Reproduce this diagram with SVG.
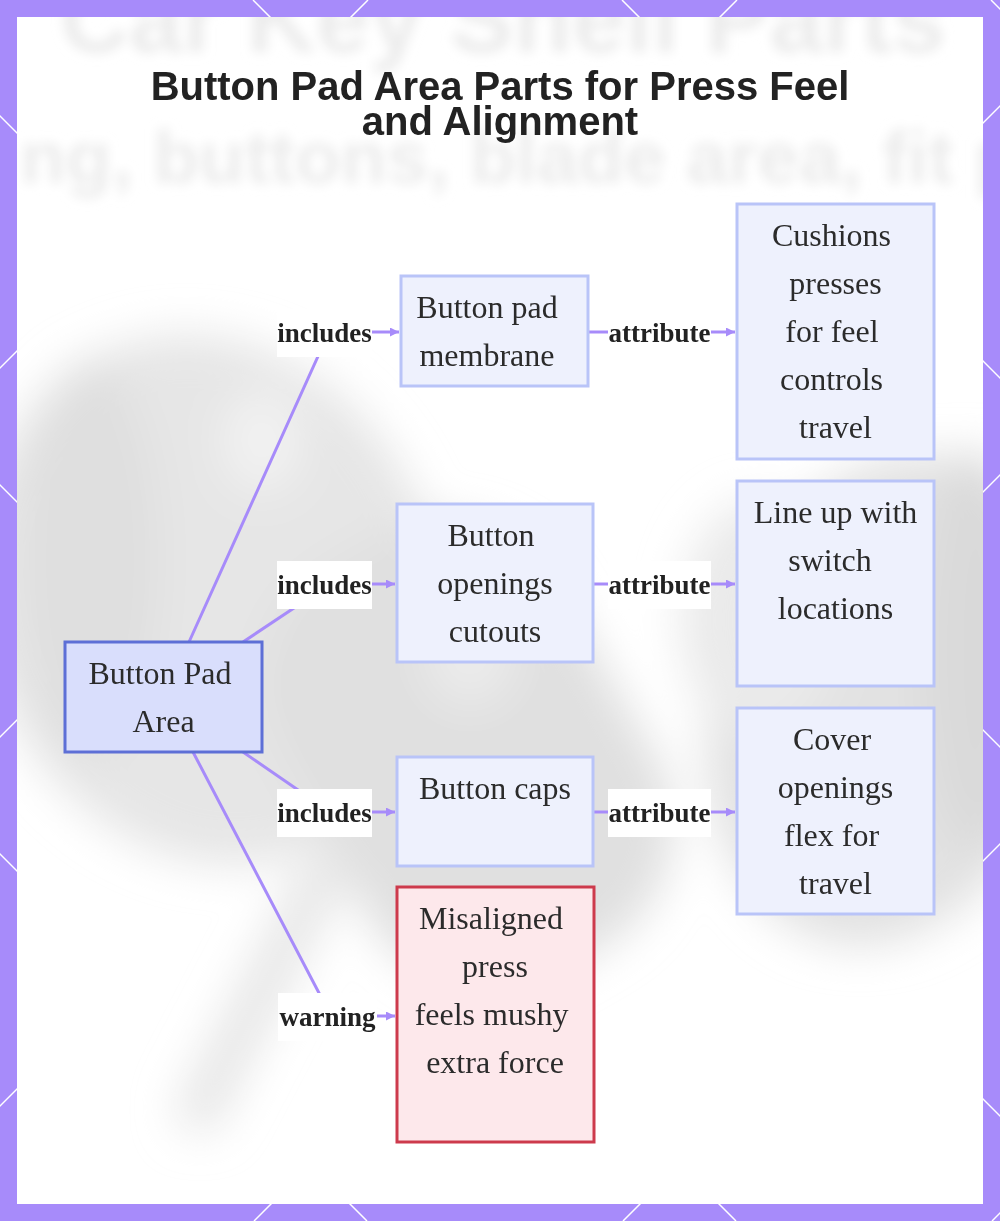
<svg xmlns="http://www.w3.org/2000/svg" width="1000" height="1221" viewBox="0 0 1000 1221">
<style>
.node rect{stroke-width:3}
.n-main rect{fill:#d9defc;stroke:#5d6fd6}
.n-part rect{fill:#eef1fd;stroke:#b9c4f8}
.n-warn rect{fill:#fde8eb;stroke:#cd3a4c}
.node text{font-family:"Liberation Serif","Times New Roman",serif;font-size:32px;fill:#2b2b2b;text-anchor:middle}
.edge{fill:none;stroke:#a78bfa;stroke-width:3}
.lbl rect{fill:#ffffff}
.lbl text{font-family:"Liberation Serif","Times New Roman",serif;font-weight:bold;font-size:27px;fill:#222;text-anchor:middle}
.title{font-family:"Liberation Sans",Arial,sans-serif;font-weight:bold;font-size:40px;fill:#222;text-anchor:middle}
.bgtxt{font-family:"Liberation Sans",Arial,sans-serif;font-weight:bold;fill:#ececec}
.lat{stroke:#ffffff;stroke-width:1.5}
</style>
<defs>
<marker id="arr" viewBox="0 0 10 10" refX="10" refY="5" markerWidth="3" markerHeight="3" orient="auto">
<path d="M0,0 L10,5 L0,10 z" fill="#a78bfa"/>
</marker>
<filter id="blurBig" x="-50%" y="-50%" width="200%" height="200%"><feGaussianBlur stdDeviation="22"/></filter>
<filter id="blurTxt" x="-10%" y="-40%" width="120%" height="180%"><feGaussianBlur stdDeviation="6"/></filter>
<clipPath id="inner"><rect x="17" y="17" width="966" height="1187"/></clipPath>
<clipPath id="frame"><path d="M0,0H1000V1221H0Z M17,17V1204H983V17Z" clip-rule="evenodd"/></clipPath>
</defs>

<!-- background -->
<rect x="0" y="0" width="1000" height="1221" fill="#ffffff"/>
<g clip-path="url(#inner)">
  <g filter="url(#blurBig)">
    <ellipse cx="210" cy="600" rx="230" ry="270" fill="#e6e6e6" transform="rotate(-20 210 600)"/>
    <ellipse cx="90" cy="560" rx="70" ry="200" fill="#dfdfdf"/>
    <ellipse cx="262" cy="440" rx="38" ry="50" fill="#f2f2f2"/>
    <rect x="300" y="520" width="330" height="470" rx="140" fill="#e0e0e0" transform="rotate(-30 465 755)"/>
    <ellipse cx="470" cy="650" rx="45" ry="55" fill="#ebebeb"/>
    <ellipse cx="890" cy="700" rx="180" ry="250" fill="#e2e2e2" transform="rotate(15 890 700)"/>
    <ellipse cx="975" cy="650" rx="50" ry="200" fill="#d9d9d9"/>
    <ellipse cx="760" cy="620" rx="80" ry="120" fill="#eaeaea"/>
    <line x1="320" y1="880" x2="200" y2="1110" stroke="#e6e6e6" stroke-width="45" stroke-linecap="round"/>
  </g>
  <g filter="url(#blurTxt)">
    <text class="bgtxt" x="60" y="52" font-size="96">Car Key Shell Parts</text>
    <text class="bgtxt" x="20" y="183" font-size="75">ng, buttons, blade area, fit p</text>
  </g>
</g>

<!-- title -->
<text class="title" x="500" y="100">Button Pad Area Parts for Press Feel</text>
<text class="title" x="500" y="135">and Alignment</text>

<!-- connectors -->
<g id="edges">
  <path class="edge" d="M189,642 L329,332 L399,332" marker-end="url(#arr)"/>
  <path class="edge" d="M243,642 L330,584 L395,584" marker-end="url(#arr)"/>
  <path class="edge" d="M243,752 L330,812 L395,812" marker-end="url(#arr)"/>
  <path class="edge" d="M193,752 L331,1016 L395,1016" marker-end="url(#arr)"/>
  <path class="edge" d="M588,332 L735,332" marker-end="url(#arr)"/>
  <path class="edge" d="M593,584 L735,584" marker-end="url(#arr)"/>
  <path class="edge" d="M593,812 L735,812" marker-end="url(#arr)"/>
  <g class="lbl">
    <rect x="277" y="309" width="95" height="48"/><text x="324.5" y="342">includes</text>
    <rect x="608" y="309" width="103" height="48"/><text x="659.5" y="342">attribute</text>
    <rect x="277" y="561" width="95" height="48"/><text x="324.5" y="594">includes</text>
    <rect x="608" y="561" width="103" height="48"/><text x="659.5" y="594">attribute</text>
    <rect x="277" y="789" width="95" height="48"/><text x="324.5" y="822">includes</text>
    <rect x="608" y="789" width="103" height="48"/><text x="659.5" y="822">attribute</text>
    <rect x="278" y="993" width="99" height="48"/><text x="327.5" y="1026">warning</text>
  </g>
</g>

<!-- nodes -->
<g id="n-area" class="node n-main">
  <rect x="65" y="642" width="197" height="110"/>
  <text x="160" y="684">Button Pad</text>
  <text x="163.5" y="732">Area</text>
</g>
<g id="n-membrane" class="node n-part">
  <rect x="401" y="276" width="187" height="110"/>
  <text x="487" y="318">Button pad</text>
  <text x="487" y="366">membrane</text>
</g>
<g id="n-openings" class="node n-part">
  <rect x="397" y="504" width="196" height="158"/>
  <text x="491" y="546">Button</text>
  <text x="495" y="594">openings</text>
  <text x="495" y="642">cutouts</text>
</g>
<g id="n-caps" class="node n-part">
  <rect x="397" y="757" width="196" height="109"/>
  <text x="495" y="799">Button caps</text>
</g>
<g id="n-misaligned" class="node n-warn">
  <rect x="397" y="887" width="197" height="255"/>
  <text x="491" y="929">Misaligned</text>
  <text x="495" y="977">press</text>
  <text x="491.5" y="1025">feels mushy</text>
  <text x="495" y="1073">extra force</text>
</g>
<g id="n-cushions" class="node n-part">
  <rect x="737" y="204" width="197" height="255"/>
  <text x="831.5" y="246">Cushions</text>
  <text x="835.5" y="294">presses</text>
  <text x="832" y="342">for feel</text>
  <text x="831.5" y="390">controls</text>
  <text x="835.5" y="438">travel</text>
</g>
<g id="n-lineup" class="node n-part">
  <rect x="737" y="481" width="197" height="205"/>
  <text x="835.5" y="523">Line up with</text>
  <text x="830" y="571">switch</text>
  <text x="835.5" y="619">locations</text>
</g>
<g id="n-cover" class="node n-part">
  <rect x="737" y="708" width="197" height="206"/>
  <text x="832" y="750">Cover</text>
  <text x="835.5" y="798">openings</text>
  <text x="831.5" y="846">flex for</text>
  <text x="835.5" y="894">travel</text>
</g>

<!-- frame -->
<path d="M0,0H1000V1221H0Z M17,17V1204H983V17Z" fill="#a78bfa" fill-rule="evenodd"/>
<g clip-path="url(#frame)" class="lat">
  <line x1="-1223" y1="0" x2="-2" y2="1221"/>
  <line x1="-854" y1="0" x2="367" y2="1221"/>
  <line x1="-485" y1="0" x2="736" y2="1221"/>
  <line x1="-116" y1="0" x2="1105" y2="1221"/>
  <line x1="253" y1="0" x2="1474" y2="1221"/>
  <line x1="622" y1="0" x2="1843" y2="1221"/>
  <line x1="991" y1="0" x2="2212" y2="1221"/>
  <line x1="-1" y1="0" x2="-1222" y2="1221"/>
  <line x1="368" y1="0" x2="-853" y2="1221"/>
  <line x1="737" y1="0" x2="-484" y2="1221"/>
  <line x1="1106" y1="0" x2="-115" y2="1221"/>
  <line x1="1475" y1="0" x2="254" y2="1221"/>
  <line x1="1844" y1="0" x2="623" y2="1221"/>
  <line x1="2213" y1="0" x2="992" y2="1221"/>
</g>
</svg>
